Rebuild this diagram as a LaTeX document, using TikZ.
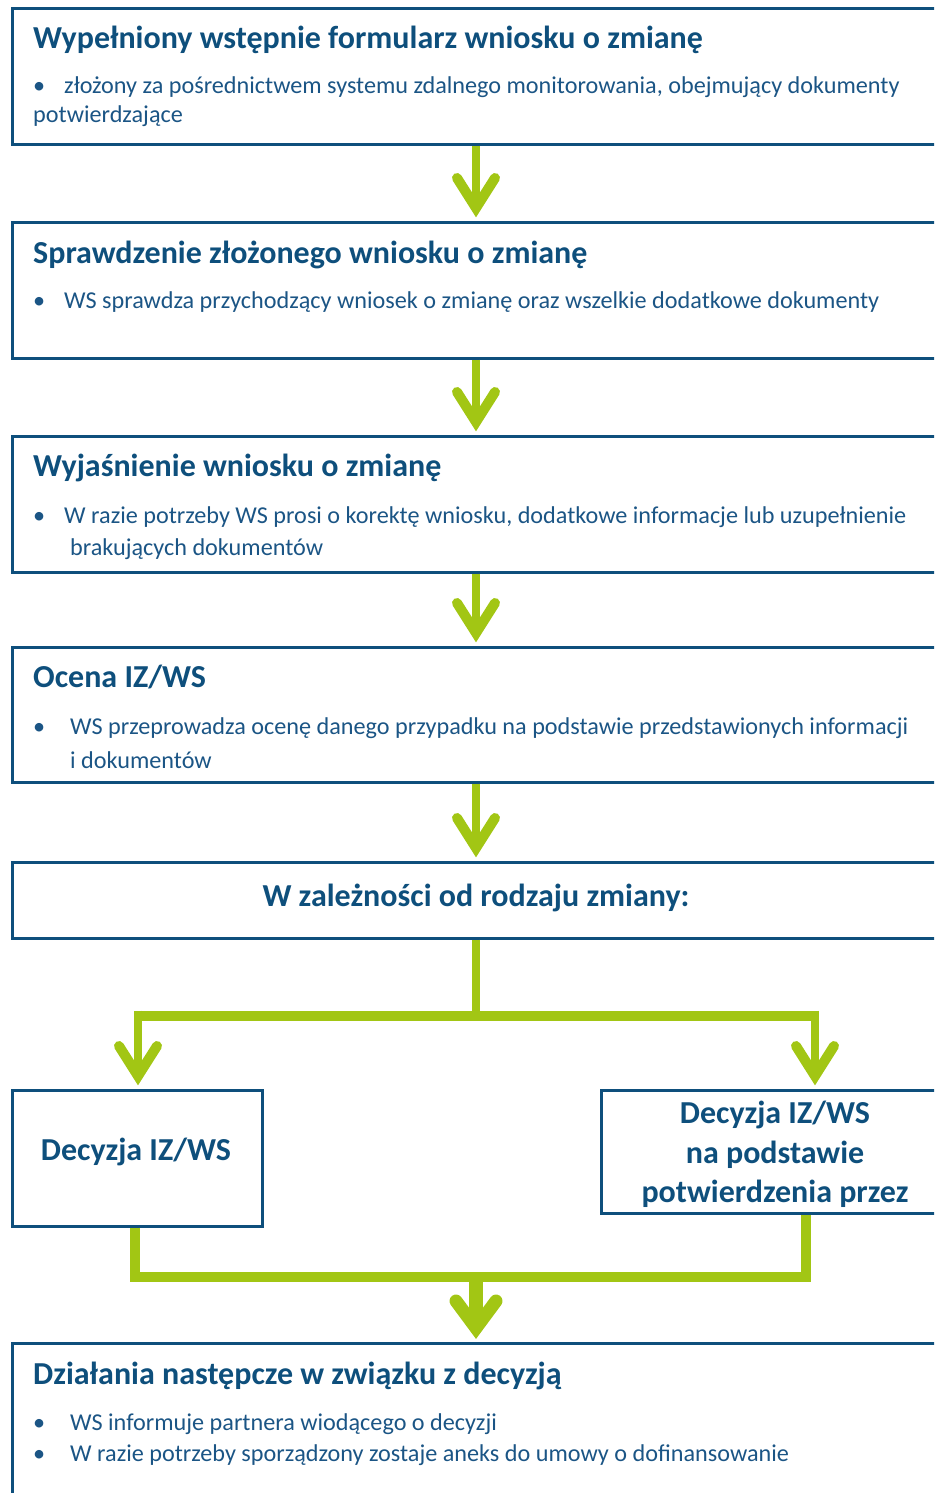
\documentclass[tikz,border=0pt]{standalone}
\usepackage{fontspec}
\setmainfont{Carlito}
\usetikzlibrary{calc}
\definecolor{boxblue}{HTML}{0E4F7C}
\definecolor{txtblue}{HTML}{0E4F7C}
\definecolor{bodyblue}{HTML}{1B5585}
\definecolor{lime}{HTML}{A2C614}
\tikzset{
  box/.style={draw=boxblue, line width=2.6pt, rectangle, inner sep=0, anchor=north west},
  ttl/.style={anchor=base west, inner sep=0, text=txtblue, font=\fontsize{32}{38}\selectfont\bfseries},
  ctitle/.style={anchor=base, inner sep=0, text=txtblue, font=\fontsize{32}{38}\selectfont\bfseries},
  bodytxt/.style={anchor=base west, inner sep=0, text=bodyblue, font=\fontsize{24.2}{29}\selectfont},
  shaft/.style={draw=lime, line width=8pt},
  bar/.style={draw=lime, line width=10pt},
  head/.style={draw=lime, line width=10pt, line cap=round, line join=miter},
}
\begin{document}
\begin{tikzpicture}[x=1pt,y=-1pt]
\useasboundingbox (0,0) rectangle (934,1493);
\clip (0,0) rectangle (934,1493);
% boxes
\node[box, minimum width=960pt, minimum height=136pt] (b1) at (11,7) {};
\node[box, minimum width=960pt, minimum height=136pt] (b2) at (11,221) {};
\node[box, minimum width=960pt, minimum height=136pt] (b3) at (11,435) {};
\node[box, minimum width=960pt, minimum height=135pt] (b4) at (11,646) {};
\node[box, minimum width=960pt, minimum height=76pt] (b5) at (11,861) {};
\node[box, minimum width=250pt, minimum height=136pt] (bl) at (11,1089) {};
\node[box, minimum width=360pt, minimum height=123pt] (br) at (600,1089) {};
\node[box, minimum width=960pt, minimum height=200pt] (b6) at (11,1342) {};
% texts
\node[ttl] (t1) at (33,49) {Wypełniony wstępnie formularz wniosku o zmianę};
\node[bodytxt] (p1a) at (33,94) {•};
\node[bodytxt] (p1b) at (64,94) {złożony za pośrednictwem systemu zdalnego monitorowania, obejmujący dokumenty};
\node[bodytxt] (p1c) at (33,123) {potwierdzające};
\node[ttl] (t2) at (33,263) {Sprawdzenie złożonego wniosku o zmianę};
\node[bodytxt] (p2a) at (33,308) {•};
\node[bodytxt] (p2b) at (64,308) {WS sprawdza przychodzący wniosek o zmianę oraz wszelkie dodatkowe dokumenty};
\node[ttl] (t3) at (33,476) {Wyjaśnienie wniosku o zmianę};
\node[bodytxt] (p3a) at (33,523) {•};
\node[bodytxt] (p3b) at (64,523) {W razie potrzeby WS prosi o korektę wniosku, dodatkowe informacje lub uzupełnienie};
\node[bodytxt] (p3c) at (70,555) {brakujących dokumentów};
\node[ttl] (t4) at (33,687) {Ocena IZ/WS};
\node[bodytxt] (p4a) at (33,734) {•};
\node[bodytxt] (p4b) at (70,734) {WS przeprowadza ocenę danego przypadku na podstawie przedstawionych informacji};
\node[bodytxt] (p4c) at (70,768) {i dokumentów};
\node[ctitle] (t5) at (476,906) {W zależności od rodzaju zmiany:};
\node[ctitle] (tl) at (136,1160) {Decyzja IZ/WS};
\node[ctitle] (tr1) at (775,1123) {Decyzja IZ/WS};
\node[ctitle] (tr2) at (775,1163) {na podstawie};
\node[ctitle] (tr3) at (775,1202) {potwierdzenia przez};
\node[ttl] (t6) at (33,1384) {Działania następcze w związku z decyzją};
\node[bodytxt] (p6a) at (33,1430) {•};
\node[bodytxt] (p6b) at (70,1430) {WS informuje partnera wiodącego o decyzji};
\node[bodytxt] (p6c) at (33,1461) {•};
\node[bodytxt] (p6d) at (70,1461) {W razie potrzeby sporządzony zostaje aneks do umowy o dofinansowanie};
% connector columns
\coordinate (cx) at (476,0);
\coordinate (lx) at (138,0);
\coordinate (rx) at (815,0);
\coordinate (ly) at (135,0);
\coordinate (ry) at (806,0);
% straight arrows
\foreach \a/\b in {b1/b2,b2/b3,b3/b4,b4/b5}{
  \draw[shaft] (\a.south -| cx) -- ($(\b.north -| cx)+(0,-14)$);
  \draw[head] ($(\b.north -| cx)+(-19,-43)$) -- ($(\b.north -| cx)+(0,-13)$) -- ($(\b.north -| cx)+(19,-43)$);
}
% branch
\coordinate (jt) at ($(b5.south -| cx)+(0,76)$);
\draw[shaft] (b5.south -| cx) -- (jt);
\draw[bar] (jt -| lx) -- (jt -| rx);
\draw[shaft] ([yshift=5pt]jt -| lx) -- ($(bl.north -| lx)+(0,-14)$);
\draw[shaft] ([yshift=5pt]jt -| rx) -- ($(br.north -| rx)+(0,-14)$);
\draw[head] ($(bl.north -| lx)+(-19,-43)$) -- ($(bl.north -| lx)+(0,-13)$) -- ($(bl.north -| lx)+(19,-43)$);
\draw[head] ($(br.north -| rx)+(-19,-43)$) -- ($(br.north -| rx)+(0,-13)$) -- ($(br.north -| rx)+(19,-43)$);
% merge
\coordinate (mj) at (476,1277);
\draw[bar] (bl.south -| ly) -- (mj -| ly) -- (mj -| ry) -- (br.south -| ry);
\draw[draw=lime, line width=14pt] (mj) -- ($(b6.north -| cx)+(0,-16)$);
\draw[head, line width=13pt] ($(b6.north -| cx)+(-20,-41)$) -- ($(b6.north -| cx)+(0,-14)$) -- ($(b6.north -| cx)+(20,-41)$);
\end{tikzpicture}
\end{document}
